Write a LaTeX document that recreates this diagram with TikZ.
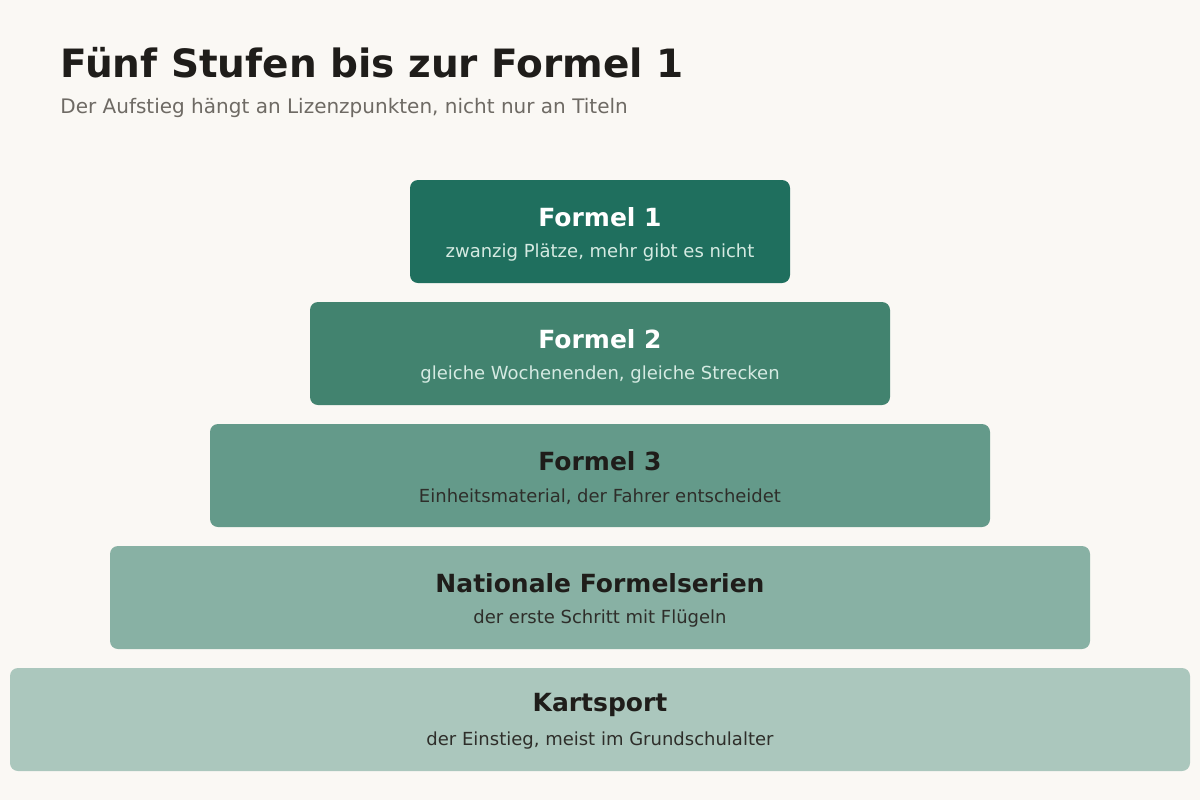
\documentclass[tikz,border=0pt]{standalone}
\usepackage{fontspec}
\setmainfont{DejaVu Sans}
\usetikzlibrary{positioning}
\definecolor{bgcol}{HTML}{FAF8F4}
\definecolor{inkcol}{HTML}{1F1D1A}
\definecolor{greycol}{HTML}{6E6A64}
\definecolor{stepA}{HTML}{1F6F5E}
\definecolor{stepB}{HTML}{42836F}
\definecolor{stepC}{HTML}{649A8A}
\definecolor{stepD}{HTML}{88B1A4}
\definecolor{stepE}{HTML}{ABC7BD}
\definecolor{lightsub}{HTML}{D5EAE2}
\definecolor{darksub}{HTML}{2E2E2A}
\tikzset{
  stage/.style={rounded corners=4pt, draw=none},
  head/.style={font=\fontsize{12.5}{14}\selectfont\bfseries},
  sub/.style={font=\fontsize{9}{11}\selectfont}
}
\begin{document}
\begin{tikzpicture}[x=0.5pt,y=-0.5pt]
\fill[bgcol] (0,0) rectangle (1200,800);
\node[anchor=base west, inner sep=0, text=inkcol, font=\fontsize{19.5}{22}\selectfont\bfseries] (title) at (60,77) {Fünf Stufen bis zur Formel 1};
\node[anchor=base west, inner sep=0, text=greycol, font=\fontsize{10}{12}\selectfont] (subtitle) at (60,113) {Der Aufstieg hängt an Lizenzpunkten, nicht nur an Titeln};
% Stufen von oben nach unten
\foreach \i/\l/\t/\c/\h/\s/\hc/\sc in {
  0/410/180/stepA/Formel 1/{zwanzig Plätze, mehr gibt es nicht}/white/lightsub,
  1/310/302/stepB/Formel 2/{gleiche Wochenenden, gleiche Strecken}/white/lightsub,
  2/210/424/stepC/Formel 3/{Einheitsmaterial, der Fahrer entscheidet}/inkcol/darksub,
  3/110/546/stepD/Nationale Formelserien/{der erste Schritt mit Flügeln}/inkcol/darksub,
  4/10/668/stepE/Kartsport/{der Einstieg, meist im Grundschulalter}/inkcol/darksub}{
  \fill[stage, \c] (\l,\t) rectangle (1200-\l,\t+103);
  \node[head, text=\hc] (head\i) at (600,\t+37) {\h};
  \node[sub, text=\sc] (sub\i) at (600,\t+73) {\s};
}
\end{tikzpicture}
\end{document}
